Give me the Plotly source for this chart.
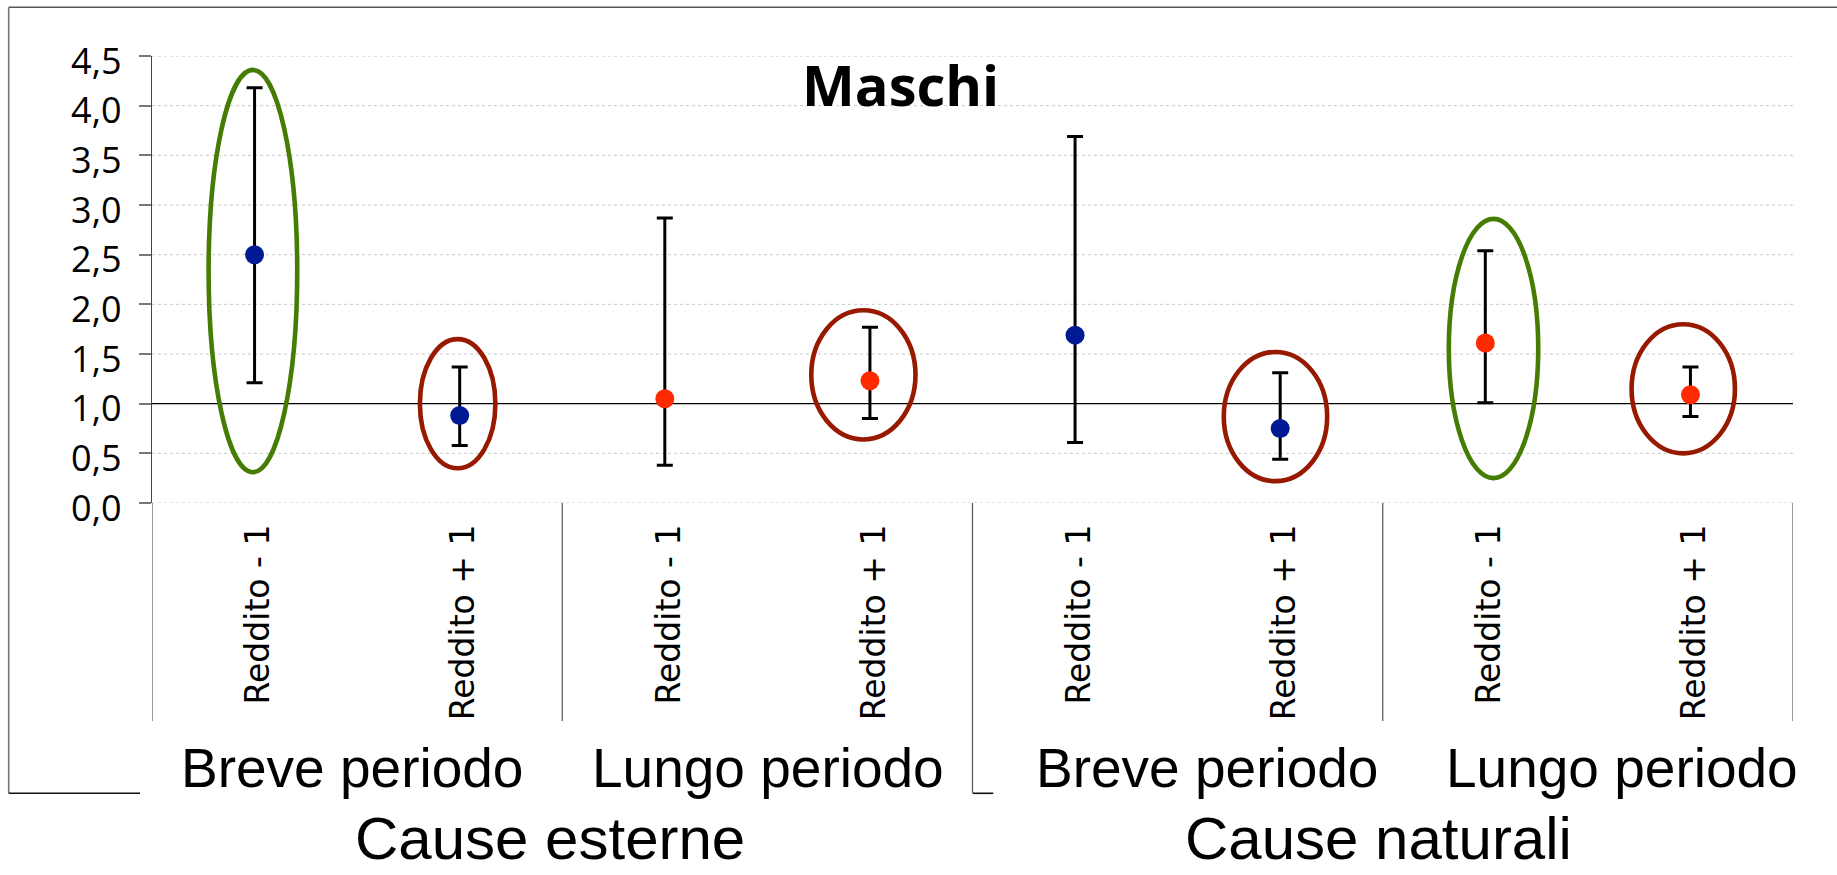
import plotly.graph_objects as go

# ---------------- data ----------------
categories = ["Reddito - 1", "Reddito + 1", "Reddito - 1", "Reddito + 1",
              "Reddito - 1", "Reddito + 1", "Reddito - 1", "Reddito + 1"]
period_labels = ["Breve periodo", "Lungo periodo", "Breve periodo", "Lungo periodo"]
cause_labels = ["Cause esterne", "Cause naturali"]
point_period = ["Breve", "Breve", "Lungo", "Lungo", "Breve", "Breve", "Lungo", "Lungo"]

values = [2.50, 0.88, 1.05, 1.23, 1.69, 0.75, 1.61, 1.09]
upper = [4.18, 1.37, 2.87, 1.77, 3.69, 1.31, 2.54, 1.37]
lower = [1.21, 0.58, 0.38, 0.85, 0.61, 0.44, 1.01, 0.87]

# highlighted estimates (ellipses): index, vertical extent, kind
hl_index = [0, 1, 3, 5, 6, 7]
hl_low = [0.31, 0.35, 0.64, 0.22, 0.25, 0.50]
hl_high = [4.36, 1.65, 1.94, 1.52, 2.86, 1.80]
hl_kind = ["sig", "ns", "ns", "ns", "sig", "ns"]

y_ticks = [0, 0.5, 1, 1.5, 2, 2.5, 3, 3.5, 4, 4.5]
ref_value = 1

# ---------------- styles / layout ----------------
W, H = 1837, 875
L, R, T, B = 152, 1793, 56, 503

def px(x):
    return (x - L) / (R - L)

def py(y):
    return (B - y) / (B - T)

period_colors = {"Breve": "#001A94", "Lungo": "#FF2A00"}
hl_colors = {"sig": "#457C04", "ns": "#961900"}
hl_halfwidth = [0.216, 0.184, 0.254, 0.252, 0.218, 0.252]
hl_shift = [-0.008, -0.01, -0.032, -0.023, 0.04, -0.035]

xs = list(range(len(categories)))
err_plus = [u - v for u, v in zip(upper, values)]
err_minus = [v - l for v, l in zip(values, lower)]

fig = go.Figure()
fig.add_trace(go.Scatter(
    x=xs, y=values, mode="markers",
    marker=dict(size=19, color=[period_colors[p] for p in point_period], line=dict(width=0)),
    error_y=dict(type="data", symmetric=False, array=err_plus, arrayminus=err_minus,
                 color="black", thickness=3, width=8),
    showlegend=False, hoverinfo="skip",
))

shapes = []
# dotted gridlines (all but the reference value)
for v in y_ticks:
    if v == ref_value:
        continue
    shapes.append(dict(type="line", xref="paper", yref="y", x0=0, x1=1, y0=v, y1=v,
                       line=dict(color="#c8c8c8", width=1, dash="dot"), layer="below"))
# reference line at 1
shapes.append(dict(type="line", xref="paper", yref="y", x0=px(140), x1=1,
                   y0=ref_value, y1=ref_value,
                   line=dict(color="black", width=1.4), layer="below"))
# ellipses
for k, i in enumerate(hl_index):
    c = i + hl_shift[k]
    shapes.append(dict(type="circle", xref="x", yref="y",
                       x0=c - hl_halfwidth[k], x1=c + hl_halfwidth[k],
                       y0=hl_low[k], y1=hl_high[k],
                       line=dict(color=hl_colors[hl_kind[k]], width=4.6), layer="above"))
# category dividers
div_x = [-0.5, 1.5, 3.5, 5.5, 7.5]
div_bottom = [721, 721, 793, 721, 721]
for dx, db in zip(div_x, div_bottom):
    shapes.append(dict(type="line", xref="x", yref="paper", x0=dx, x1=dx, y0=0, y1=py(db),
                       line=dict(color="#555555", width=1.2)))
# outer frame remnants
frame = "#555555"
shapes.append(dict(type="line", xref="paper", yref="paper", x0=px(8.7), x1=px(W + 5),
                   y0=py(7.3), y1=py(7.3), line=dict(color=frame, width=1.6)))
shapes.append(dict(type="line", xref="paper", yref="paper", x0=px(8.7), x1=px(8.7),
                   y0=py(7.3), y1=py(793.3), line=dict(color="#777777", width=1.6)))
shapes.append(dict(type="line", xref="paper", yref="paper", x0=px(8.7), x1=px(140),
                   y0=py(793.3), y1=py(793.3), line=dict(color="#111111", width=1.6)))
shapes.append(dict(type="line", xref="paper", yref="paper", x0=px(972.7), x1=px(993.3),
                   y0=py(793.3), y1=py(793.3), line=dict(color="#111111", width=1.6)))

annotations = []
annotations.append(dict(text="<b>Maschi</b>", xref="paper", yref="paper", x=px(900), y=py(84.5),
                        xanchor="center", yanchor="middle", showarrow=False,
                        font=dict(family="Open Sans", size=56, color="black")))
period_x = [352, 768, 1207, 1622]
for lab, cx in zip(period_labels, period_x):
    annotations.append(dict(text=lab, xref="paper", yref="paper", x=px(cx), y=py(768),
                            xanchor="center", yanchor="middle", showarrow=False,
                            font=dict(family="Liberation Sans", size=55, color="black")))
cause_x = [550, 1378]
for lab, cx in zip(cause_labels, cause_x):
    annotations.append(dict(text=lab, xref="paper", yref="paper", x=px(cx), y=py(838),
                            xanchor="center", yanchor="middle", showarrow=False,
                            font=dict(family="Liberation Sans", size=60, color="black")))

fig.update_layout(
    width=W, height=H,
    margin=dict(l=L, r=W - R, t=T, b=H - B, pad=0),
    paper_bgcolor="white", plot_bgcolor="white",
    separators=",.",
    showlegend=False,
    shapes=shapes, annotations=annotations,
    xaxis=dict(range=[-0.5, 7.5], tickmode="array", tickvals=xs, ticktext=categories,
               tickangle=-90, ticks="", showgrid=False, zeroline=False, showline=False,
               ticklabelstandoff=14, ticklabelshift=4,
               tickfont=dict(family="DejaVu Sans", size=33, color="black")),
    yaxis=dict(range=[0, 4.5], tickmode="array", tickvals=y_ticks,
               ticktext=[f"{v:.1f}".replace(".", ",") for v in y_ticks],
               ticks="outside", ticklen=12, tickwidth=1.5, tickcolor="#777777",
               showline=True, linecolor="#444444", linewidth=1.4,
               showgrid=False, zeroline=False, ticklabelstandoff=10, ticklabelshift=5,
               tickfont=dict(family="Open Sans", size=36, color="black")),
)

fig.write_html("out.html", config={"displayModeBar": False},
               post_script="document.body.style.margin='0px';")
